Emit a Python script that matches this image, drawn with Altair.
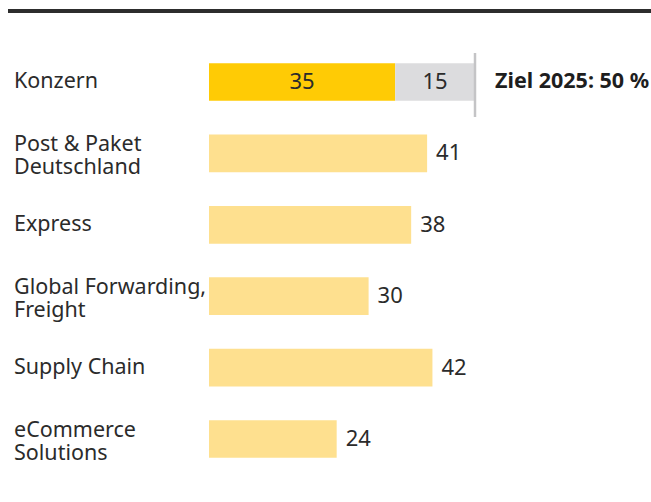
import altair as alt
import pandas as pd

categories = ["Konzern", "Post & Paket\nDeutschland", "Express",
              "Global Forwarding,\nFreight", "Supply Chain", "eCommerce\nSolutions"]
division_values = [41, 38, 30, 42, 24]
konzern_actual = 35
konzern_gap = 15
target = 50
target_label = "Ziel 2025: 50 %"

FONT = "Noto Sans"
TEXT = "#2b2b2b"
LS = 21.5   # label font size

div_df = pd.DataFrame({"cat": categories[1:], "value": division_values})
konz_df = pd.DataFrame({
    "cat": ["Konzern", "Konzern"],
    "start": [0, konzern_actual],
    "end": [konzern_actual, konzern_actual + konzern_gap],
    "label": [str(konzern_actual), str(konzern_gap)],
    "part": ["ist", "offen"],
})
konz_df["mid"] = (konz_df["start"] + konz_df["end"]) / 2
cat_df = pd.DataFrame({"cat": categories})
parts = cat_df["cat"].str.split("\n")
cat_df["line1"] = parts.str[0]
cat_df["line2"] = parts.str[1].fillna("")
single_df = cat_df[cat_df["line2"] == ""]
multi_df = cat_df[cat_df["line2"] != ""]
tgt_df = pd.DataFrame({"cat": ["Konzern"], "value": [target], "label": [target_label]})

xs = alt.Scale(domain=[0, 50], range=[209, 475])
ys = alt.Scale(domain=categories, range=[46.3, 474.7], paddingInner=0.472, paddingOuter=0.236)

X = lambda f: alt.X(f, scale=xs, axis=None)
Y = alt.Y("cat:N", scale=ys, axis=None)

top_rule = alt.Chart(cat_df.head(1)).mark_rule(color="#2d2d2d", strokeWidth=4).encode(
    x=alt.value(8), x2=alt.value(651), y=alt.value(11))

div_bars = alt.Chart(div_df).mark_bar(color="#FEE08F").encode(x=X("value:Q"), y=Y)

konz_bars = alt.Chart(konz_df).mark_bar().encode(
    x=X("start:Q"), x2="end:Q", y=Y,
    color=alt.Color("part:N", scale=alt.Scale(domain=["ist", "offen"], range=["#FFCB05", "#DCDCDE"]), legend=None))

tgt_rule = alt.Chart(tgt_df).mark_rule(color="#C4C4C6", strokeWidth=2.5).encode(
    x=X("value:Q"), y=alt.value(53), y2=alt.value(117))

txt = dict(align="left", baseline="middle", fontSize=LS, font=FONT, color=TEXT)
single_labels = alt.Chart(single_df).mark_text(**txt).encode(x=alt.value(14), y=Y, text="line1:N")
first_lines = alt.Chart(multi_df).mark_text(dy=-8, **txt).encode(x=alt.value(14), y=Y, text="line1:N")
second_lines = alt.Chart(multi_df).mark_text(dy=15, **txt).encode(x=alt.value(14), y=Y, text="line2:N")

div_labels = alt.Chart(div_df).mark_text(align="left", baseline="middle", dx=9,
                                         fontSize=22, font=FONT, color=TEXT).encode(
    x=X("value:Q"), y=Y, text="value:Q")

konz_labels = alt.Chart(konz_df).mark_text(align="center", baseline="middle",
                                           fontSize=22, font=FONT, color=TEXT).encode(
    x=X("mid:Q"), y=Y, text="label:N")

tgt_label = alt.Chart(tgt_df).mark_text(align="left", baseline="middle", dx=20, fontWeight="bold",
                                        fontSize=21.5, font=FONT, color="#1e1e1e").encode(
    x=X("value:Q"), y=Y, text="label:N")

chart = alt.layer(top_rule, div_bars, konz_bars, tgt_rule, single_labels, first_lines, second_lines,
                  div_labels, konz_labels, tgt_label).properties(
    width=651, height=502, padding=0, autosize="none", background="white"
).configure_view(stroke=None)

chart.save("out.html", embed_options={"renderer": "svg", "actions": False})
